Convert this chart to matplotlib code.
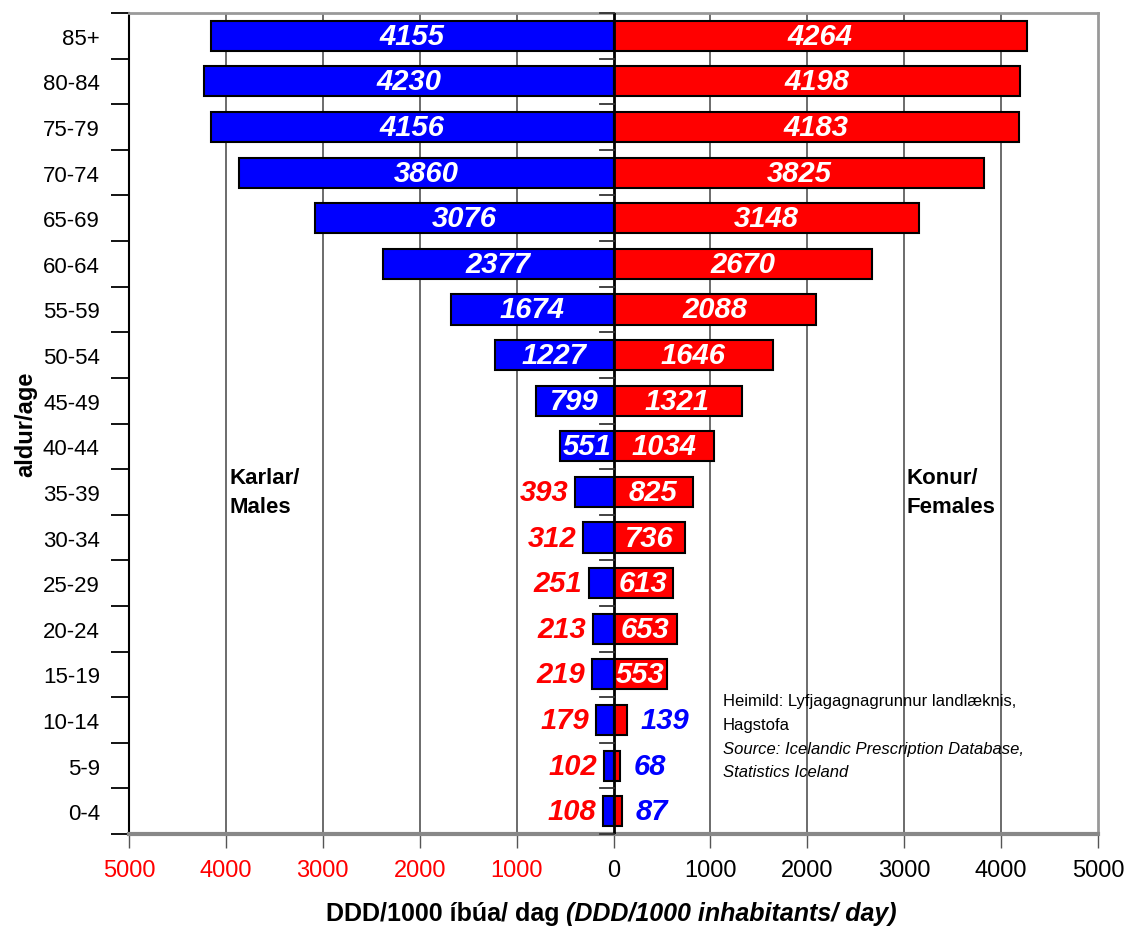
import numpy as np
import matplotlib
matplotlib.use("Agg")
import matplotlib.pyplot as plt

plt.rcParams['font.family'] = ['Liberation Sans', 'DejaVu Sans']

# Age groups, bottom to top
ages = ['0-4', '5-9', '10-14', '15-19', '20-24', '25-29', '30-34', '35-39', '40-44',
        '45-49', '50-54', '55-59', '60-64', '65-69', '70-74', '75-79', '80-84', '85+']
males = [108, 102, 179, 219, 213, 251, 312, 393, 551,
         799, 1227, 1674, 2377, 3076, 3860, 4156, 4230, 4155]
females = [87, 68, 139, 553, 653, 613, 736, 825, 1034,
           1321, 1646, 2088, 2670, 3148, 3825, 4183, 4198, 4264]
xticks = [-5000, -4000, -3000, -2000, -1000, 0, 1000, 2000, 3000, 4000, 5000]

males = np.array(males)
females = np.array(females)
y = np.arange(len(ages))

fig = plt.figure(figsize=(11.29, 9.29), dpi=100)
ax = fig.add_axes([129 / 1129, 1 - 835 / 929, (1098 - 129) / 1129, (835 - 14) / 929])

# gridlines
for g in xticks[1:-1]:
    if g != 0:
        ax.axvline(g, color='#444444', lw=1.1, zorder=0)

ax.barh(y, -males, height=0.66, color='#0000ff', edgecolor='black', lw=1.5, zorder=2)
ax.barh(y, females, height=0.66, color='#ff0000', edgecolor='black', lw=1.5, zorder=2)

# centre line and its small ticks
ax.axvline(0, color='black', lw=2, zorder=3)
for b in np.arange(len(ages) + 1) - 0.5:
    ax.plot([-140, 0], [b, b], color='#333333', lw=1.3, zorder=3, clip_on=False)

lab_kw = dict(fontsize=21, fontweight='bold', fontstyle='italic', va='center', zorder=4)
for yi, m, f in zip(y, males, females):
    if m >= 500:
        ax.text(-m / 2, yi, str(m), color='white', ha='center', **lab_kw)
    else:
        ax.text(-m - 70, yi, str(m), color='#ff0000', ha='right', **lab_kw)
    if f >= 500:
        ax.text(f / 2, yi, str(f), color='white', ha='center', **lab_kw)
    else:
        ax.text(f + 140, yi, str(f), color='#0000ff', ha='left', **lab_kw)

ax.set_xlim(-5000, 5000)
ax.set_ylim(-0.5, len(ages) - 0.5)

ax.set_xticks(xticks)
ax.set_xticklabels([str(abs(v)) for v in xticks], fontsize=17)
for lbl, v in zip(ax.get_xticklabels(), xticks):
    lbl.set_color('#ff0000' if v < 0 else 'black')
ax.tick_params(axis='x', length=10, width=1, color='#555555', pad=8)

ax.set_yticks(np.arange(len(ages) + 1) - 0.5)
ax.set_yticklabels([])
ax.set_yticks(y, minor=True)
ax.set_yticklabels(ages, minor=True, fontsize=16)
ax.tick_params(axis='y', which='major', length=13, width=1.3, color='black')
ax.tick_params(axis='y', which='minor', length=0, pad=21)

ax.spines['left'].set_color('black')
ax.spines['left'].set_linewidth(1.5)
ax.spines['top'].set_color('#999999')
ax.spines['top'].set_linewidth(2)
ax.spines['right'].set_color('#999999')
ax.spines['right'].set_linewidth(2)
ax.spines['bottom'].set_color('#888888')
ax.spines['bottom'].set_linewidth(3)

ax.set_ylabel('aldur/age', fontsize=17, fontweight='bold', labelpad=4)

ax.text(-4000 + 40, 7.0, 'Karlar/\nMales', fontsize=16, fontweight='bold',
        ha='left', va='center', linespacing=1.5)
ax.text(3000 + 20, 7.0, 'Konur/\nFemales', fontsize=16, fontweight='bold',
        ha='left', va='center', linespacing=1.5)

src_x = 1130
ax.text(src_x, 2.42, 'Heimild: Lyfjagagnagrunnur landlæknis,', fontsize=12, va='center')
ax.text(src_x, 1.89, 'Hagstofa', fontsize=12, va='center')
ax.text(src_x, 1.37, 'Source: Icelandic Prescription Database,', fontsize=12,
        fontstyle='italic', va='center')
ax.text(src_x, 0.86, 'Statistics Iceland', fontsize=12, fontstyle='italic', va='center')

fig.text(566 / 1129, 1 - 914 / 929, 'DDD/1000 íbúa/ dag ', fontsize=18,
         fontweight='bold', ha='right', va='center')
fig.text(566 / 1129, 1 - 914 / 929, '(DDD/1000 inhabitants/ day)', fontsize=18,
         fontweight='bold', fontstyle='italic', ha='left', va='center')

fig.savefig('out.png', dpi=100)
